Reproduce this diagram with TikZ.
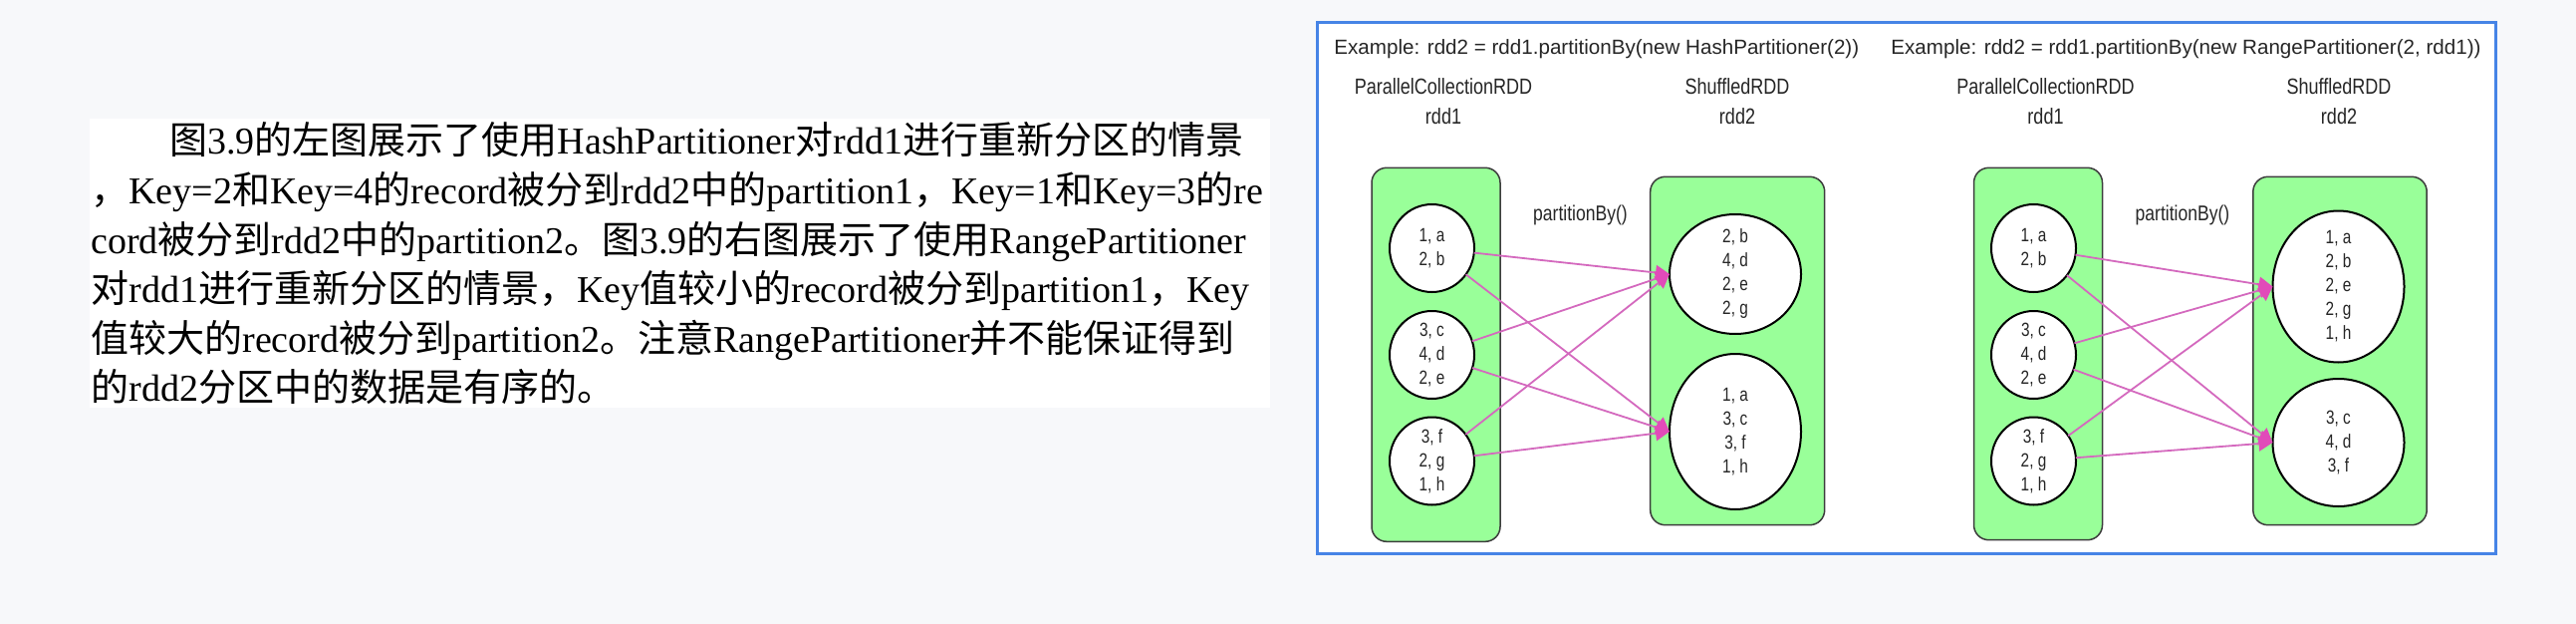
\documentclass[tikz,border=0pt]{standalone}
\usepackage{fontspec}
\usetikzlibrary{shapes.geometric,arrows.meta}
\setmainfont{Liberation Serif}
\setsansfont{Liberation Sans}
\newfontfamily\zhfont{Noto Sans CJK SC}
\newfontfamily\narrowsf[FakeStretch=0.82]{Liberation Sans}
\newfontfamily\cellsf[FakeStretch=0.8]{Liberation Sans}
\newcommand\zh[1]{{\zhfont #1}}
\definecolor{pagebg}{RGB}{247,248,250}
\definecolor{frameblue}{RGB}{70,132,230}
\definecolor{boxgreen}{RGB}{153,255,153}
\definecolor{boxline}{RGB}{60,60,60}
\definecolor{arrowpink}{RGB}{212,105,190}
\definecolor{headpink}{RGB}{225,75,185}
\tikzset{
  para/.style={anchor=base west, inner sep=0, font=\fontsize{19pt}{24pt}\selectfont},
  titletext/.style={anchor=base west, inner sep=0, text=black!85, font=\sffamily\fontsize{10.3pt}{12pt}\selectfont},
  rddlabel/.style={anchor=base, inner sep=0, align=center, text=black!85, font=\narrowsf\fontsize{11pt}{15pt}\selectfont},
  partlabel/.style={anchor=center, inner sep=0, text=black!85, font=\narrowsf\fontsize{10.7pt}{15pt}\selectfont},
  greenbox/.style={draw=boxline, line width=0.75pt, fill=boxgreen, rounded corners=7.5pt, inner sep=0, outer sep=0},
  part/.style={ellipse, draw=black, line width=1pt, fill=white, inner sep=0, outer sep=0},
  celltext/.style={align=center, inner sep=0, text=black!85, font=\cellsf\fontsize{9.6pt}{12pt}\selectfont},
  conn/.style={draw=arrowpink, line width=0.9pt, -{Triangle[length=7pt,width=7.5pt,color=headpink]}},
}
\begin{document}
\begin{tikzpicture}[x=0.5pt,y=-0.5pt]
% page
\fill[pagebg] (0,0) rectangle (2586,626);
\useasboundingbox (0,0) rectangle (2586,626);
% text panel
\fill[white] (90,119) rectangle (1275,409);
\node[para] (l1) at (170,155) {\zh{图}3.9\zh{的左图展示了使用}HashPartitioner\zh{对}rdd1\zh{进行重新分区的情景}};
\node[para] (l2) at (91,204.5) {\zh{，}Key=2\zh{和}Key=4\zh{的}record\zh{被分到}rdd2\zh{中的}partition1\zh{，}Key=1\zh{和}Key=3\zh{的}re};
\node[para] (l3) at (91,254) {cord\zh{被分到}rdd2\zh{中的}partition2\zh{。图}3.9\zh{的右图展示了使用}RangePartitioner};
\node[para] (l4) at (91,303.5) {\zh{对}rdd1\zh{进行重新分区的情景，}Key\zh{值较小的}record\zh{被分到}partition1\zh{，}Key};
\node[para] (l5) at (91,353) {\zh{值较大的}record\zh{被分到}partition2\zh{。注意}RangePartitioner\zh{并不能保证得到}};
\node[para] (l6) at (91,402.5) {\zh{的}rdd2\zh{分区中的数据是有序的。}};
% figure frame
\draw[frameblue, line width=1.5pt, fill=white] (1322,23) rectangle (2505,555);
\node[titletext] (t1) at (1339,54.3) {Example: rdd2 = rdd1.partitionBy(new HashPartitioner(2))};
\node[titletext] (t2) at (1898,54.3) {Example: rdd2 = rdd1.partitionBy(new RangePartitioner(2, rdd1))};
% ---------- left example ----------
\node[rddlabel] (h1) at (1449,125) {ParallelCollectionRDD\\rdd1};
\node[rddlabel] (h2) at (1744,125) {ShuffledRDD\\rdd2};
\node[greenbox, minimum width=64.5pt, minimum height=187.5pt] (b1) at (1441.5,355.8) {};
\node[greenbox, minimum width=87.5pt, minimum height=174.7pt] (b2) at (1744.2,352) {};
\node[partlabel] (pb1) at (1586.5,216) {partitionBy()};
\node[part, minimum width=42.5pt, minimum height=44pt] (a1) at (1437.5,249) {};
\node[part, minimum width=42.5pt, minimum height=44pt] (a2) at (1437.5,356) {};
\node[part, minimum width=42.5pt, minimum height=44pt] (a3) at (1437.5,462.5) {};
\node[part, minimum width=66pt, minimum height=60pt] (p1) at (1742,275) {};
\node[part, minimum width=66pt, minimum height=78pt] (p2) at (1742,433) {};
\node[celltext] at (a1) {1, a\\2, b};
\node[celltext] at (a2) {3, c\\4, d\\2, e};
\node[celltext] at (a3) {3, f\\2, g\\1, h};
\node[celltext] at (p1) {2, b\\4, d\\2, e\\2, g};
\node[celltext] at (p2) {1, a\\3, c\\3, f\\1, h};
\foreach \s in {a1,a2,a3}{
  \draw[conn] (\s) -- (p1.west);
  \draw[conn] (\s) -- (p2.west);
}
% ---------- right example ----------
\node[rddlabel] (h3) at (2053.5,125) {ParallelCollectionRDD\\rdd1};
\node[rddlabel] (h4) at (2348,125) {ShuffledRDD\\rdd2};
\node[greenbox, minimum width=64.5pt, minimum height=186.7pt] (b3) at (2046,355) {};
\node[greenbox, minimum width=87.2pt, minimum height=174.7pt] (b4) at (2349,352) {};
\node[partlabel] (pb2) at (2191,216) {partitionBy()};
\node[part, minimum width=42.5pt, minimum height=44pt] (c1) at (2041.5,249) {};
\node[part, minimum width=42.5pt, minimum height=44pt] (c2) at (2041.5,356) {};
\node[part, minimum width=42.5pt, minimum height=44pt] (c3) at (2041.5,462.5) {};
\node[part, minimum width=66pt, minimum height=76pt] (q1) at (2347.5,287.5) {};
\node[part, minimum width=66pt, minimum height=64pt] (q2) at (2347.5,444) {};
\node[celltext] at (c1) {1, a\\2, b};
\node[celltext] at (c2) {3, c\\4, d\\2, e};
\node[celltext] at (c3) {3, f\\2, g\\1, h};
\node[celltext] at (q1) {1, a\\2, b\\2, e\\2, g\\1, h};
\node[celltext] at (q2) {3, c\\4, d\\3, f};
\foreach \s in {c1,c2,c3}{
  \draw[conn] (\s) -- (q1.west);
  \draw[conn] (\s) -- (q2.west);
}
\end{tikzpicture}
\end{document}
